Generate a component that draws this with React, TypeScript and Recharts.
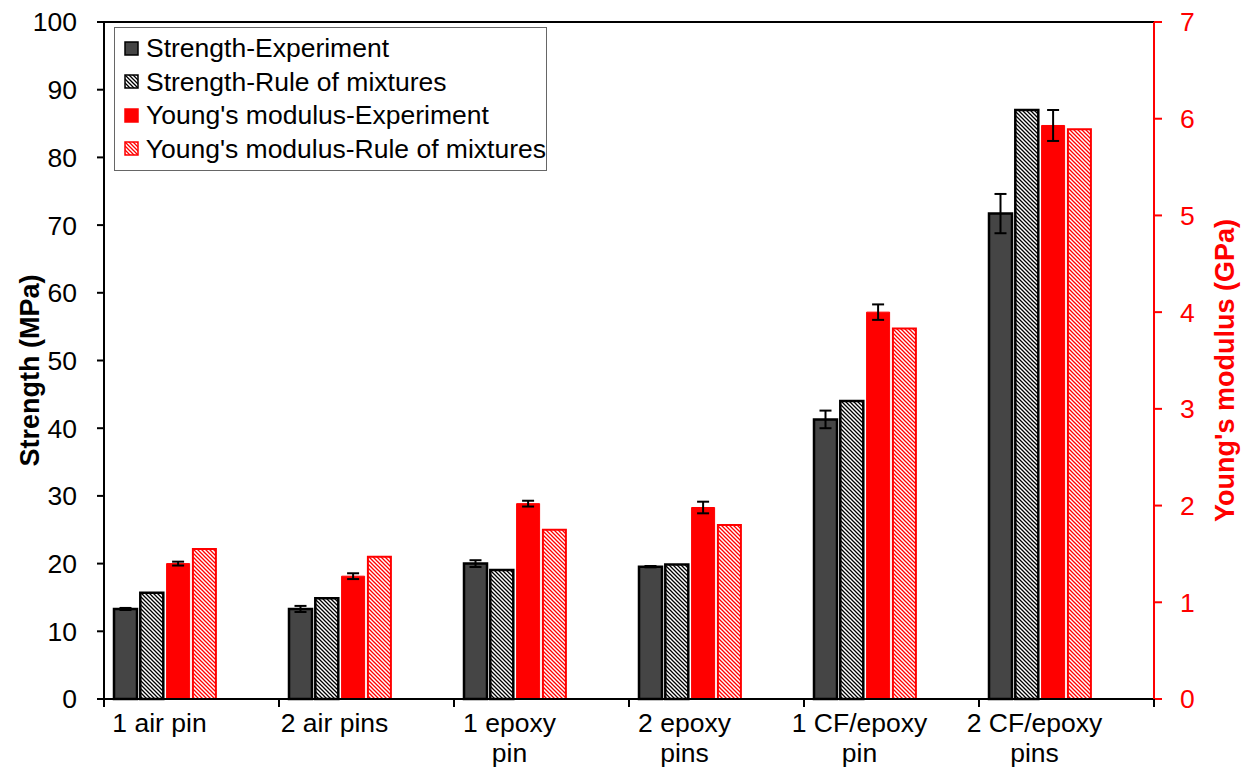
import React from 'react';
import {
  BarChart,
  Bar,
  XAxis,
  YAxis,
  ErrorBar,
  Legend,
  ReferenceLine,
} from 'recharts';

const categories = [
  '1 air pin',
  '2 air pins',
  '1 epoxy\npin',
  '2 epoxy\npins',
  '1 CF/epoxy\npin',
  '2 CF/epoxy\npins',
];
const strengthExp = [13.3, 13.3, 20.0, 19.55, 41.3, 71.7];
const strengthExpErr = [0.15, 0.45, 0.5, 0.1, 1.3, 2.9];
const strengthRoM = [15.7, 14.9, 19.05, 19.85, 44.0, 87.0];
const youngExp = [1.4, 1.27, 2.02, 1.98, 4.0, 5.93];
const youngExpErr = [0.02, 0.03, 0.03, 0.06, 0.08, 0.16];
const youngRoM = [1.55, 1.47, 1.75, 1.8, 3.83, 5.89];

const strengthTicks = [0, 10, 20, 30, 40, 50, 60, 70, 80, 90, 100];
const modulusTicks = [0, 1, 2, 3, 4, 5, 6, 7];

const seriesNames = [
  'Strength-Experiment',
  'Strength-Rule of mixtures',
  "Young's modulus-Experiment",
  "Young's modulus-Rule of mixtures",
];

const data = categories.map((name, i) => ({
  name,
  sExp: strengthExp[i],
  sExpErr: strengthExpErr[i],
  sRoM: strengthRoM[i],
  yExp: youngExp[i],
  yExpErr: youngExpErr[i],
  yRoM: youngRoM[i],
}));

const FONT = '"Liberation Sans", Arial, sans-serif';
const FS = 26.5;
const RED = '#ff0000';
const DARK = '#454545';

function CategoryTick(props: any) {
  const { x, y, payload, index, width, visibleTicksCount } = props;
  const count = visibleTicksCount ?? categories.length;
  const band = (width ?? 1050) / count;
  const left = x - band / 2;
  const lines = String(payload.value).split('\n');
  const tx = x - 32;
  return (
    <g>
      <line x1={left} y1={y} x2={left} y2={y + 8} stroke="#000" strokeWidth={2} />
      {index === count - 1 && (
        <line x1={left + band} y1={y} x2={left + band} y2={y + 8} stroke="#000" strokeWidth={2} />
      )}
      <text x={tx} y={y + 33} textAnchor="middle" fontSize={FS} fill="#000" fontFamily={FONT}>
        {lines.map((l, i) => (
          <tspan key={i} x={tx} dy={i === 0 ? 0 : 30}>
            {l}
          </tspan>
        ))}
      </text>
    </g>
  );
}

function AxisTitle({ viewBox, value, fill, dx }: any) {
  const cx = viewBox.x + dx;
  const cy = viewBox.y + viewBox.height / 2 + 10;
  return (
    <text
      x={cx}
      y={cy}
      transform={`rotate(-90 ${cx} ${cy})`}
      textAnchor="middle"
      dy="0.35em"
      fontSize={27}
      fontWeight="bold"
      fill={fill}
      fontFamily={FONT}
    >
      {value}
    </text>
  );
}

const legendIcons = [
  { fill: DARK, stroke: '#000' },
  { fill: 'url(#hatchBlack)', stroke: '#000' },
  { fill: RED, stroke: RED },
  { fill: 'url(#hatchRed)', stroke: RED },
];

function LegendBox() {
  return (
    <div
      style={{
        border: '1px solid #666',
        background: '#fff',
        padding: '4px 0 4px 9px',
        fontFamily: FONT,
        fontSize: FS,
        color: '#000',
        boxSizing: 'border-box',
        width: 433,
      }}
    >
      {seriesNames.map((name, i) => (
        <div key={name} style={{ display: 'flex', alignItems: 'center', height: 33.5 }}>
          <svg width={16} height={16} style={{ marginRight: 6 }}>
            <rect
              x={1}
              y={1}
              width={13}
              height={13}
              fill={legendIcons[i].fill}
              stroke={legendIcons[i].stroke}
              strokeWidth={1.5}
            />
          </svg>
          <span style={{ whiteSpace: 'nowrap' }}>{name}</span>
        </div>
      ))}
    </div>
  );
}

export default function App() {
  return (
    <div style={{ position: 'absolute', left: 0, top: 0, background: '#fff' }}>
      <BarChart
        width={1254}
        height={769}
        data={data}
        margin={{ top: 22, right: 0, bottom: 0, left: 0 }}
        barCategoryGap={10}
        barGap={3.3}
      >
        <defs>
          <pattern id="hatchBlack" patternUnits="userSpaceOnUse" width={4} height={4}>
            <rect width={4} height={4} fill="#fff" />
            <path d="M-1,-1 L5,5 M-1,3 L1,5 M3,-1 L5,1" stroke="#000" strokeWidth={1.3} />
          </pattern>
          <pattern id="hatchRed" patternUnits="userSpaceOnUse" width={4} height={4}>
            <rect width={4} height={4} fill="#fff" />
            <path d="M-1,-1 L5,5 M-1,3 L1,5 M3,-1 L5,1" stroke={RED} strokeWidth={1.3} />
          </pattern>
        </defs>
        <XAxis
          dataKey="name"
          height={70}
          interval={0}
          tickLine={false}
          tickSize={0}
          tickMargin={0}
          tick={<CategoryTick />}
          axisLine={{ stroke: '#000', strokeWidth: 2 }}
        />
        <YAxis
          yAxisId="left"
          width={104}
          domain={[0, 100]}
          ticks={strengthTicks}
          interval={0}
          tickSize={7}
          tickMargin={20}
          tick={{ fontSize: FS, fill: '#000', fontFamily: FONT }}
          tickLine={{ stroke: '#000', strokeWidth: 2 }}
          axisLine={{ stroke: '#000', strokeWidth: 2 }}
          label={(p: any) => <AxisTitle {...p} value="Strength (MPa)" fill="#000" dx={30} />}
        />
        <YAxis
          yAxisId="right"
          orientation="right"
          width={100}
          domain={[0, 7]}
          ticks={modulusTicks}
          interval={0}
          tickSize={8}
          tickMargin={18}
          tick={{ fontSize: FS, fill: RED, fontFamily: FONT }}
          tickLine={{ stroke: RED, strokeWidth: 2 }}
          axisLine={{ stroke: RED, strokeWidth: 2 }}
          label={(p: any) => <AxisTitle {...p} value="Young's modulus (GPa)" fill={RED} dx={71} />}
        />
        <ReferenceLine yAxisId="left" y={100} stroke="#000" strokeWidth={2} />
        <Legend
          layout="vertical"
          align="center"
          verticalAlign="middle"
          wrapperStyle={{ left: 114, top: 27, width: 433 }}
          content={() => <LegendBox />}
        />
        <Bar
          yAxisId="left"
          dataKey="sExp"
          name={seriesNames[0]}
          fill={DARK}
          stroke="#000"
          strokeWidth={2.5}
          isAnimationActive={false}
        >
          <ErrorBar dataKey="sExpErr" width={6} stroke="#000" strokeWidth={2} direction="y" />
        </Bar>
        <Bar
          yAxisId="left"
          dataKey="sRoM"
          name={seriesNames[1]}
          fill="url(#hatchBlack)"
          stroke="#000"
          strokeWidth={2.5}
          isAnimationActive={false}
        />
        <Bar
          yAxisId="right"
          dataKey="yExp"
          name={seriesNames[2]}
          fill={RED}
          stroke={RED}
          strokeWidth={1}
          isAnimationActive={false}
        >
          <ErrorBar dataKey="yExpErr" width={6} stroke="#000" strokeWidth={2} direction="y" />
        </Bar>
        <Bar
          yAxisId="right"
          dataKey="yRoM"
          name={seriesNames[3]}
          fill="url(#hatchRed)"
          stroke={RED}
          strokeWidth={2}
          isAnimationActive={false}
        />
        {/* empty slots, Excel-style spacing to the right of each group */}
        <Bar yAxisId="right" dataKey="padA" legendType="none" isAnimationActive={false} />
        <Bar yAxisId="right" dataKey="padB" legendType="none" isAnimationActive={false} />
      </BarChart>
    </div>
  );
}
